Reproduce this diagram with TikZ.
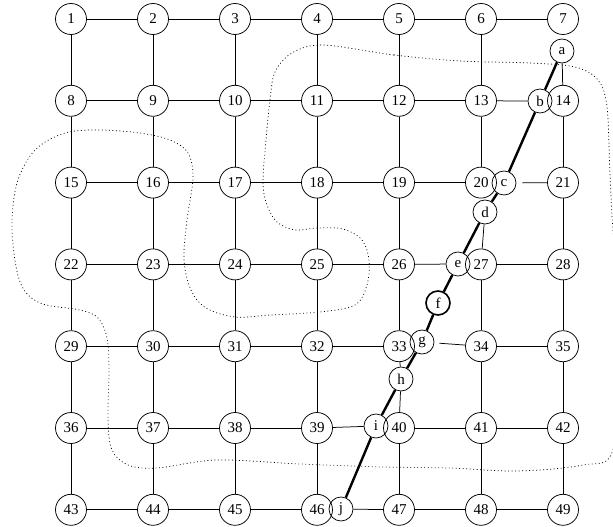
\documentclass[tikz,border=0pt]{standalone}
\usepackage{fontspec}
\setmainfont{Liberation Serif}
\tikzset{
  simpul/.style={circle, draw, minimum size=31pt, inner sep=0pt, font=\fontsize{15}{15}\selectfont},
  huruf/.style={simpul, minimum size=24pt},
}
\begin{document}
\begin{tikzpicture}[x=1pt, y=-1pt, line width=0.75pt]
  \useasboundingbox (0,0) rectangle (613,527);
  \clip (0,0) rectangle (613,527);
  % daerah bertitik
  \draw[dash pattern=on 0.9pt off 2.6pt] plot[smooth cycle, tension=0.55] coordinates {
    (323,45) (394,55) (460,61) (530,63) (575,67) (598,80) (607,107) (610,175) (614,245) (624,345)
    (613,450) (583,465) (517,471) (450,468) (383,467) (300,464) (217,460) (157,468) (128,465)
    (112,450) (108,420) (109,370) (107,338) (98,318) (80,310) (40,303) (20,282) (12,230) (17,183)
    (35,150) (65,133) (100,130) (140,133) (170,140) (188,153) (193,178) (187,220) (184,260)
    (191,290) (206,308) (235,317) (270,315) (320,312) (355,305) (367,285) (369,260) (362,240)
    (343,229) (317,228) (295,230) (277,222) (267,205) (263,183) (266,140) (270,100) (275,72) (292,53)};
  % simpul bernomor
  \foreach \baris in {0,...,6}{
    \foreach \kolom in {0,...,6}{
      \pgfmathtruncatemacro\n{7*\baris+\kolom+1}
      \node[simpul] (n\n) at ({71+82*\kolom},{19+81.8*\baris}) {\n};
    }
  }
  % simpul huruf
  \node[huruf] (a) at (562,51) {a};
  \node[huruf] (b) at (540,101) {b};
  \node[huruf] (c) at (504,183) {c};
  \node[huruf] (d) at (485,212) {d};
  \node[huruf] (e) at (458,264) {e};
  \node[huruf, line width=1.6pt] (f) at (438,303) {f};
  \node[huruf] (g) at (422,342) {g};
  \node[huruf] (h) at (401,379) {h};
  \node[huruf] (i) at (376,426) {i};
  \node[huruf] (j) at (341,509) {j};
  % sisi mendatar
  \foreach \baris in {0,...,6}{
    \foreach \kolom in {0,...,5}{
      \pgfmathtruncatemacro\n{7*\baris+\kolom+1}
      \pgfmathtruncatemacro\m{\n+1}
      \pgfmathtruncatemacro\lewati{(\n==13)||(\n==20)||(\n==26)||(\n==33)||(\n==39)||(\n==46)}
      \ifnum\lewati=0 \draw (n\n) -- (n\m); \fi
    }
  }
  % sisi tegak
  \foreach \baris in {0,...,5}{
    \foreach \kolom in {0,...,6}{
      \pgfmathtruncatemacro\n{7*\baris+\kolom+1}
      \pgfmathtruncatemacro\m{\n+7}
      \pgfmathtruncatemacro\lewati{(\n==7)||(\n==20)||(\n==33)}
      \ifnum\lewati=0 \draw (n\n) -- (n\m); \fi
    }
  }
  % sisi ke simpul huruf
  \draw (n13) -- (b);
  \draw[shorten <=6pt] (c) -- (n21);
  \draw (n26) -- (e);
  \draw[shorten <=5pt] (g) -- (n34);
  \draw (n39) -- (i);
  \draw (j) -- (n47);
  \draw (a) -- (n14);
  \draw (d) -- (n27);
  \draw (n33) -- (h) -- (n40);
  % lintasan tebal
  \draw[line width=2.4pt] (a) -- (b) -- (c) -- (d) -- (e) -- (f) -- (g) -- (h) -- (i) -- (j);
\end{tikzpicture}
\end{document}
